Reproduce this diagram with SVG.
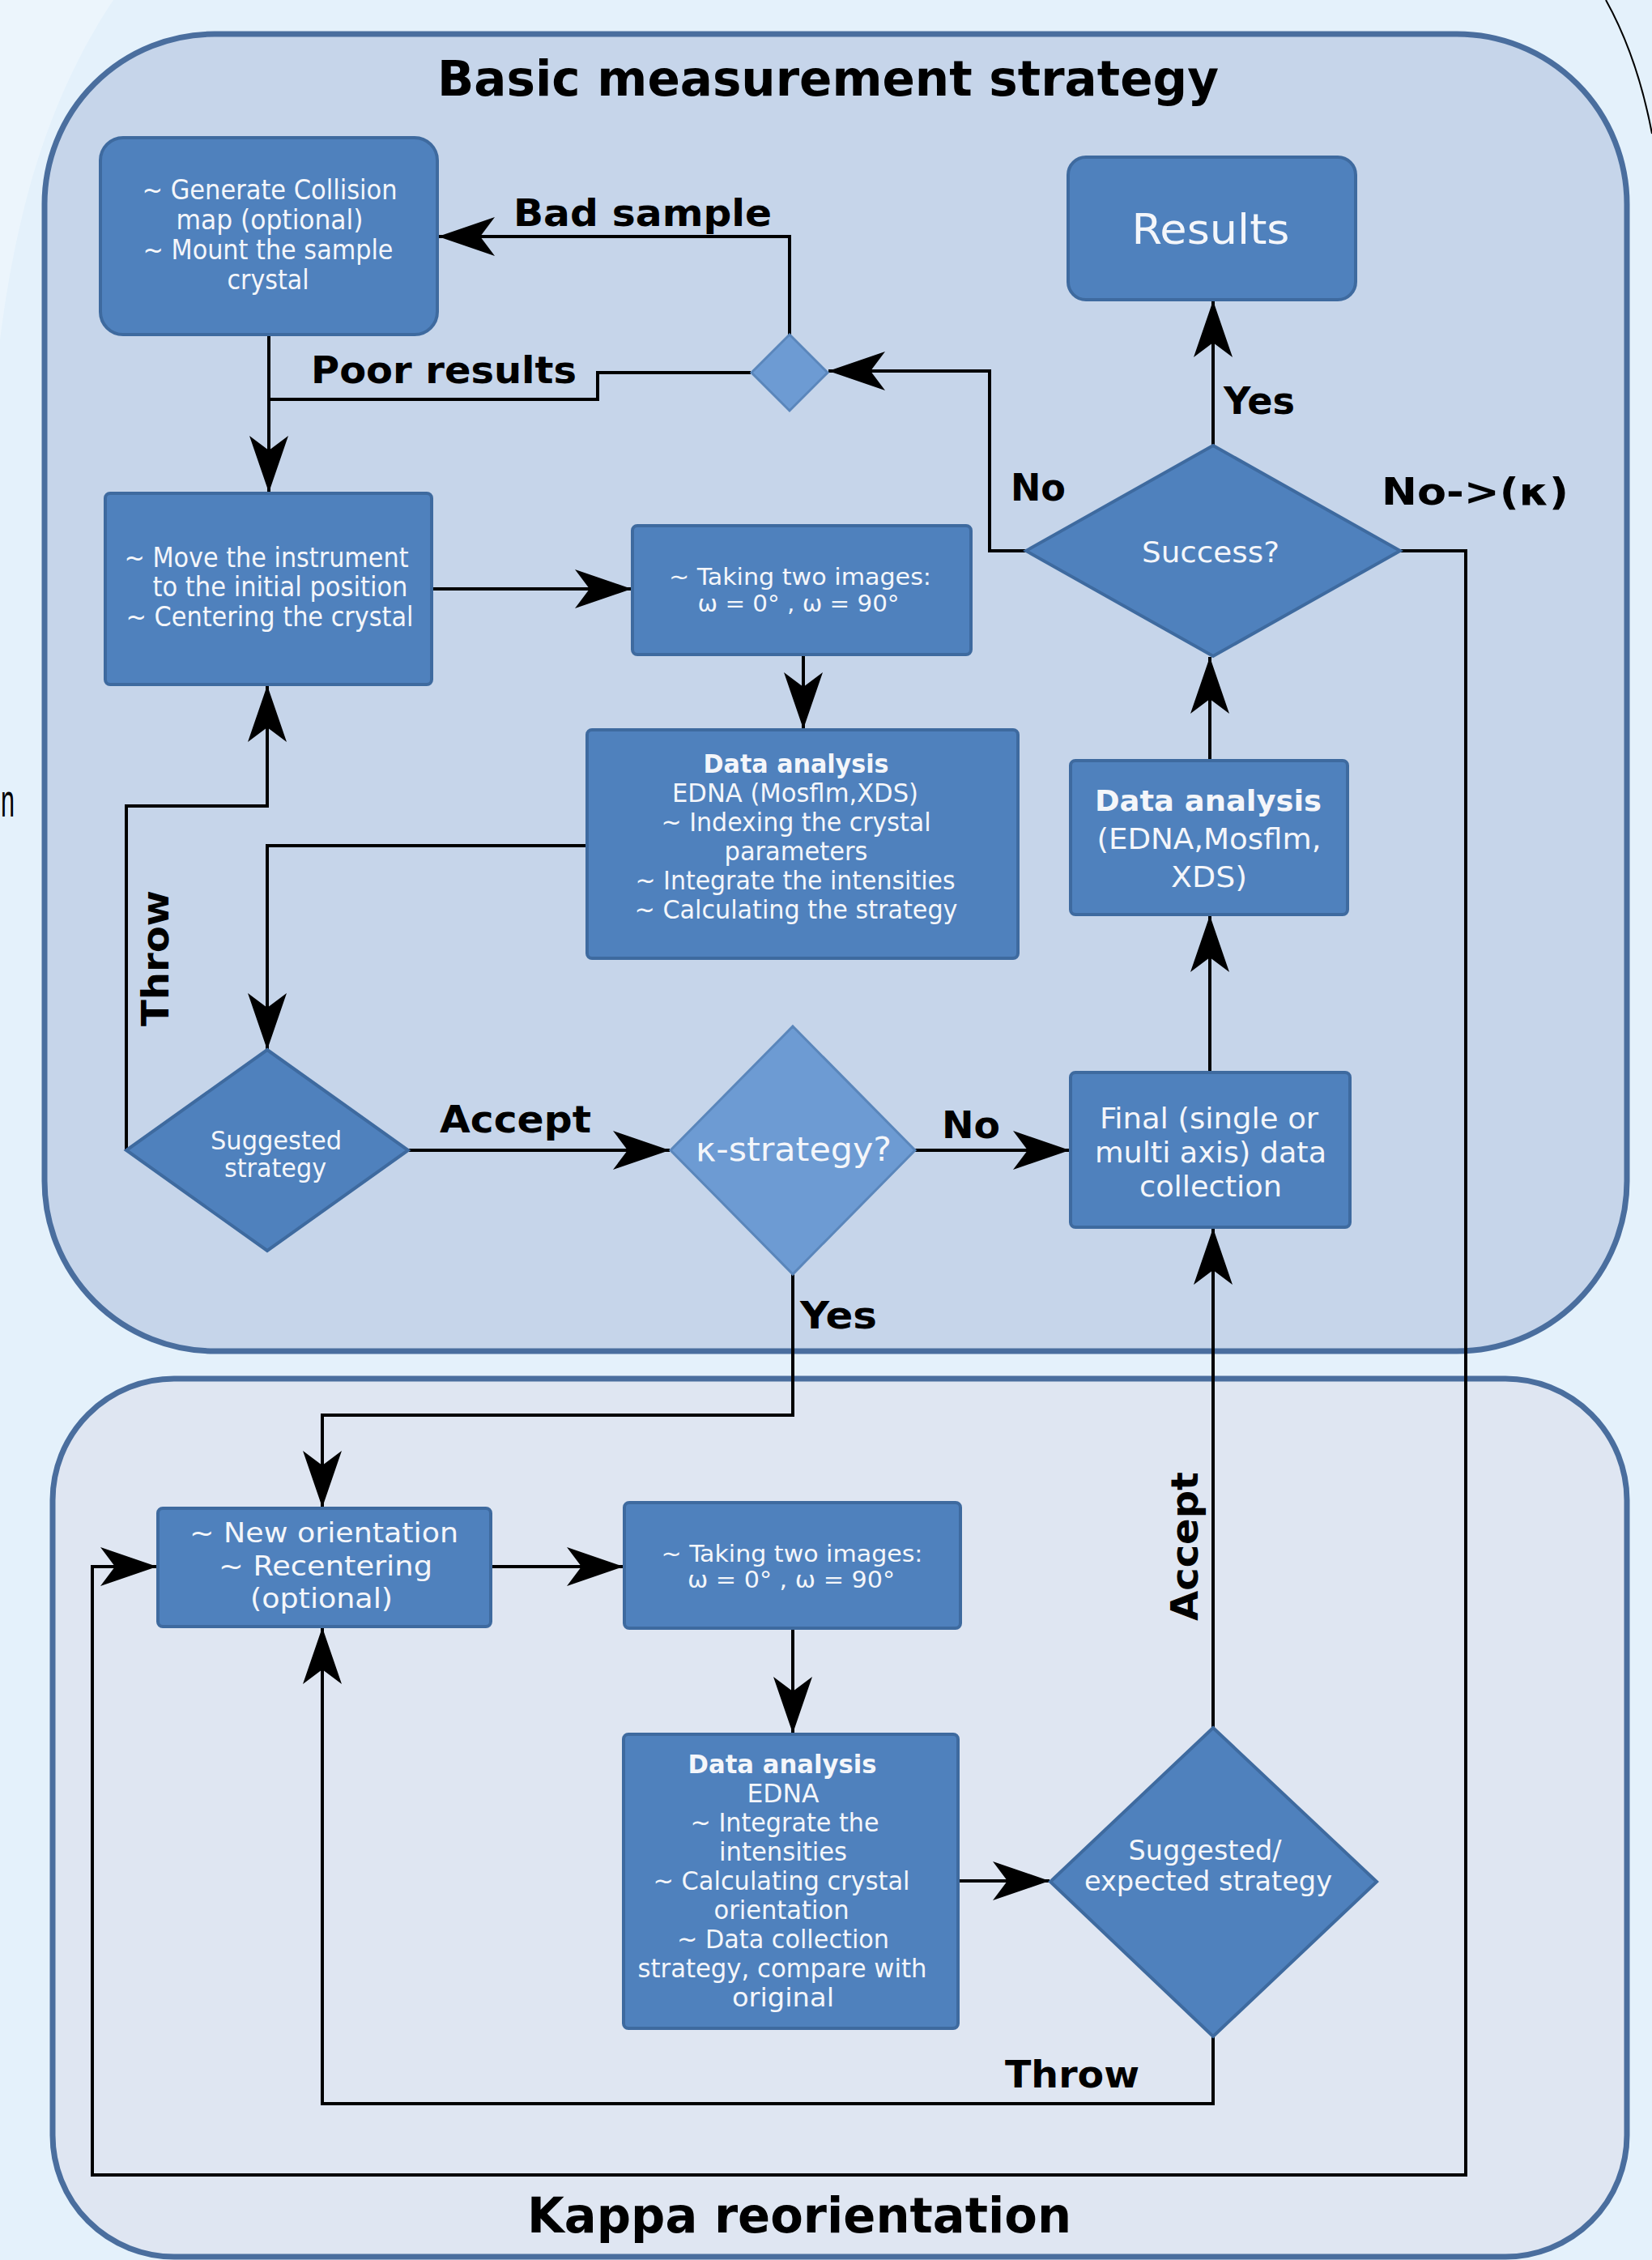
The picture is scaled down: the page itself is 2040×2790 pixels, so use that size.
<svg xmlns="http://www.w3.org/2000/svg" width="2040" height="2790" viewBox="0 0 2040 2790">
<style>
.panel{stroke:#4a6e9e;stroke-width:7}
.node{fill:#4f81bd;stroke:#3e6a9f;stroke-width:4}
.light{fill:#6d9bd3;stroke:#5a86bb;stroke-width:3}
.nt{font-family:"DejaVu Sans Condensed","DejaVu Sans",sans-serif;font-stretch:condensed;fill:#f4f6fa;text-anchor:middle}
.nb{font-weight:bold}
.lbl{font-family:"DejaVu Sans","Liberation Sans",sans-serif;font-weight:bold;fill:#000;font-size:46px}
.ttl{font-family:"DejaVu Sans","Liberation Sans",sans-serif;font-weight:bold;fill:#000;font-size:60px}
.con{fill:none;stroke:#000;stroke-width:4}
.arr{marker-end:url(#ah)}
</style>
<defs>
<marker id="ah" markerUnits="userSpaceOnUse" viewBox="-72 -26 74 52" refX="0" refY="0" markerWidth="74" markerHeight="52" orient="auto">
<path d="M0,0 L-70,-24 L-52,0 L-70,24 Z" fill="#000"/>
</marker>
</defs>
<rect x="0" y="0" width="2040" height="2790" fill="#e4f1fb"/>
<path d="M0,0 L140,0 C60,120 20,260 0,420 Z" fill="#eef6fd" opacity="0.8"/>
<path d="M1983,0 Q2022,70 2040,165" fill="none" stroke="#000" stroke-width="2"/>
<text x="1" y="1008" font-family="Liberation Sans, sans-serif" font-size="58" fill="#000" textLength="17" lengthAdjust="spacingAndGlyphs">n</text>

<g id="panel-basic">
<rect class="panel" x="55" y="42" width="1954" height="1626" rx="210" ry="210" fill="#c6d5ea"/>
<text class="ttl" x="540" y="118" textLength="965" lengthAdjust="spacingAndGlyphs">Basic measurement strategy</text>
</g>
<g id="panel-kappa">
<rect class="panel" x="65" y="1702" width="1944" height="1084" rx="150" ry="150" fill="#dfe6f2"/>
<text class="ttl" x="651" y="2756" font-size="58" textLength="672" lengthAdjust="spacingAndGlyphs">Kappa reorientation</text>
</g>

<g id="connectors">
<path class="con arr" d="M332,413 V608"/>
<path class="con" d="M927,460 H738 V493 H332"/>
<path class="con arr" d="M975,414 V292 H541"/>
<path class="con arr" d="M533,727 H780"/>
<path class="con arr" d="M992,808 V900"/>
<path class="con arr" d="M725,1044 H330 V1296"/>
<path class="con arr" d="M156,1420 V995 H330 V846"/>
<path class="con arr" d="M504,1420 H827"/>
<path class="con arr" d="M1130,1420 H1321"/>
<path class="con arr" d="M1494,1324 V1130"/>
<path class="con arr" d="M1494,939 V811"/>
<path class="con arr" d="M1498,551 V371"/>
<path class="con arr" d="M1267,680 H1222 V458 H1023"/>
<path class="con arr" d="M1729,680 H1810 V2685 H114 V1934 H194"/>
<path class="con arr" d="M979,1573 V1747 H398 V1861"/>
<path class="con arr" d="M606,1934 H770"/>
<path class="con arr" d="M979,2010 V2140"/>
<path class="con arr" d="M1183,2322 H1296"/>
<path class="con arr" d="M1498,2133 V1516"/>
<path class="con arr" d="M1498,2514 V2597 H398 V2009"/>
<text class="lbl" x="634" y="279" textLength="319" lengthAdjust="spacingAndGlyphs">Bad sample</text>
<text class="lbl" x="384" y="473" textLength="328" lengthAdjust="spacingAndGlyphs">Poor results</text>
<text class="lbl" x="1511" y="511" textLength="88" lengthAdjust="spacingAndGlyphs">Yes</text>
<text class="lbl" x="1248" y="618" textLength="68" lengthAdjust="spacingAndGlyphs">No</text>
<text class="lbl" x="1706" y="623" textLength="231" lengthAdjust="spacingAndGlyphs">No-&gt;(κ)</text>
<text class="lbl" x="208" y="1183" text-anchor="middle" transform="rotate(-90 208 1183)" textLength="168" lengthAdjust="spacingAndGlyphs">Throw</text>
<text class="lbl" x="543" y="1398" textLength="187" lengthAdjust="spacingAndGlyphs">Accept</text>
<text class="lbl" x="1163" y="1405" textLength="72" lengthAdjust="spacingAndGlyphs">No</text>
<text class="lbl" x="988" y="1640" textLength="95" lengthAdjust="spacingAndGlyphs">Yes</text>
<text class="lbl" x="1479" y="1909" text-anchor="middle" transform="rotate(-90 1479 1909)" textLength="184" lengthAdjust="spacingAndGlyphs">Accept</text>
<text class="lbl" x="1241" y="2577" textLength="166" lengthAdjust="spacingAndGlyphs">Throw</text>
</g>

<g id="node-mount">
<rect class="node" x="124" y="170" width="416" height="243" rx="28"/>
<text class="nt" font-size="33" x="333" y="246" textLength="315" lengthAdjust="spacingAndGlyphs">~ Generate Collision</text>
<text class="nt" font-size="33" x="333" y="283" textLength="231" lengthAdjust="spacingAndGlyphs">map (optional)</text>
<text class="nt" font-size="33" x="331" y="320" textLength="309" lengthAdjust="spacingAndGlyphs">~ Mount the sample</text>
<text class="nt" font-size="33" x="331" y="357" textLength="101" lengthAdjust="spacingAndGlyphs">crystal</text>
</g>
<g id="node-choice">
<path class="light" d="M975,413 L1022,460 L975,507 L928,460 Z"/>
</g>
<g id="node-results">
<rect class="node" x="1319" y="194" width="355" height="176" rx="22"/>
<text class="nt" font-size="52" x="1495" y="301" style="font-stretch:normal" textLength="195" lengthAdjust="spacingAndGlyphs">Results</text>
</g>
<g id="node-move">
<rect class="node" x="130" y="609" width="403" height="236" rx="6"/>
<text class="nt" font-size="34" x="329" y="700" textLength="351" lengthAdjust="spacingAndGlyphs">~ Move the instrument</text>
<text class="nt" font-size="34" x="346" y="736" textLength="315" lengthAdjust="spacingAndGlyphs">to the initial position</text>
<text class="nt" font-size="34" x="333" y="773" textLength="355" lengthAdjust="spacingAndGlyphs">~ Centering the crystal</text>
</g>
<g id="node-take1">
<rect class="node" x="781" y="649" width="418" height="159" rx="6"/>
<text class="nt" font-size="29" x="988" y="722" textLength="324" lengthAdjust="spacingAndGlyphs">~ Taking two images:</text>
<text class="nt" font-size="29" x="986" y="755" textLength="249" lengthAdjust="spacingAndGlyphs">ω = 0° , ω = 90°</text>
</g>
<g id="node-success">
<path class="node" d="M1498,550 L1729,680 L1498,810 L1267,680 Z"/>
<text class="nt" font-size="36" x="1495" y="694" textLength="170" lengthAdjust="spacingAndGlyphs">Success?</text>
</g>
<g id="node-da1">
<rect class="node" x="725" y="901" width="532" height="282" rx="6"/>
<text class="nt nb" font-size="32" x="983" y="954" textLength="229" lengthAdjust="spacingAndGlyphs">Data analysis</text>
<text class="nt" font-size="32" x="982" y="990" textLength="304" lengthAdjust="spacingAndGlyphs">EDNA (Mosflm,XDS)</text>
<text class="nt" font-size="32" x="983" y="1026" textLength="333" lengthAdjust="spacingAndGlyphs">~ Indexing the crystal</text>
<text class="nt" font-size="32" x="983" y="1062" textLength="177" lengthAdjust="spacingAndGlyphs">parameters</text>
<text class="nt" font-size="32" x="982" y="1098" textLength="395" lengthAdjust="spacingAndGlyphs">~ Integrate the intensities</text>
<text class="nt" font-size="32" x="983" y="1134" textLength="399" lengthAdjust="spacingAndGlyphs">~ Calculating the strategy</text>
</g>
<g id="node-da2">
<rect class="node" x="1322" y="939" width="342" height="190" rx="6"/>
<text class="nt nb" font-size="35" x="1492" y="1001" style="font-stretch:normal" textLength="280" lengthAdjust="spacingAndGlyphs">Data analysis</text>
<text class="nt" font-size="35" x="1493" y="1048" style="font-stretch:normal" textLength="277" lengthAdjust="spacingAndGlyphs">(EDNA,Mosflm,</text>
<text class="nt" font-size="35" x="1493" y="1095" style="font-stretch:normal" textLength="94" lengthAdjust="spacingAndGlyphs">XDS)</text>
</g>
<g id="node-suggested">
<path class="node" d="M330,1296 L504,1420 L330,1544 L156,1420 Z"/>
<text class="nt" font-size="32" x="341" y="1419" textLength="162" lengthAdjust="spacingAndGlyphs">Suggested</text>
<text class="nt" font-size="32" x="340" y="1453" textLength="126" lengthAdjust="spacingAndGlyphs">strategy</text>
</g>
<g id="node-kappa">
<path class="light" d="M979,1267 L1130,1420 L979,1573 L828,1420 Z"/>
<text class="nt" font-size="40" x="980" y="1433" style="font-stretch:normal" textLength="242" lengthAdjust="spacingAndGlyphs">κ-strategy?</text>
</g>
<g id="node-final">
<rect class="node" x="1322" y="1324" width="345" height="191" rx="6"/>
<text class="nt" font-size="35" x="1493" y="1393" style="font-stretch:normal" textLength="270" lengthAdjust="spacingAndGlyphs">Final (single or</text>
<text class="nt" font-size="35" x="1495" y="1435" style="font-stretch:normal" textLength="286" lengthAdjust="spacingAndGlyphs">multi axis) data</text>
<text class="nt" font-size="35" x="1495" y="1477" style="font-stretch:normal" textLength="176" lengthAdjust="spacingAndGlyphs">collection</text>
</g>
<g id="node-neworient">
<rect class="node" x="195" y="1862" width="411" height="146" rx="6"/>
<text class="nt" font-size="34" x="400" y="1904" textLength="332" lengthAdjust="spacingAndGlyphs">~ New orientation</text>
<text class="nt" font-size="34" x="402" y="1945" textLength="264" lengthAdjust="spacingAndGlyphs">~ Recentering</text>
<text class="nt" font-size="34" x="397" y="1985" textLength="176" lengthAdjust="spacingAndGlyphs">(optional)</text>
</g>
<g id="node-take2">
<rect class="node" x="771" y="1855" width="415" height="155" rx="6"/>
<text class="nt" font-size="29" x="978" y="1928" textLength="323" lengthAdjust="spacingAndGlyphs">~ Taking two images:</text>
<text class="nt" font-size="29" x="977" y="1960" textLength="256" lengthAdjust="spacingAndGlyphs">ω = 0° , ω = 90°</text>
</g>
<g id="node-da3">
<rect class="node" x="770" y="2141" width="413" height="363" rx="6"/>
<text class="nt nb" font-size="32" x="966" y="2189" textLength="233" lengthAdjust="spacingAndGlyphs">Data analysis</text>
<text class="nt" font-size="32" x="967" y="2225" textLength="89" lengthAdjust="spacingAndGlyphs">EDNA</text>
<text class="nt" font-size="32" x="969" y="2261" textLength="233" lengthAdjust="spacingAndGlyphs">~ Integrate the</text>
<text class="nt" font-size="32" x="967" y="2297" textLength="158" lengthAdjust="spacingAndGlyphs">intensities</text>
<text class="nt" font-size="32" x="965" y="2333" textLength="317" lengthAdjust="spacingAndGlyphs">~ Calculating crystal</text>
<text class="nt" font-size="32" x="965" y="2369" textLength="167" lengthAdjust="spacingAndGlyphs">orientation</text>
<text class="nt" font-size="32" x="967" y="2405" textLength="262" lengthAdjust="spacingAndGlyphs">~ Data collection</text>
<text class="nt" font-size="32" x="966" y="2441" textLength="357" lengthAdjust="spacingAndGlyphs">strategy, compare with</text>
<text class="nt" font-size="32" x="967" y="2477" textLength="126" lengthAdjust="spacingAndGlyphs">original</text>
</g>
<g id="node-sugexp">
<path class="node" d="M1498,2133 L1700,2323 L1498,2514 L1297,2323 Z"/>
<text class="nt" font-size="34" x="1488" y="2296" style="font-stretch:normal" textLength="189" lengthAdjust="spacingAndGlyphs">Suggested/</text>
<text class="nt" font-size="34" x="1492" y="2334" style="font-stretch:normal" textLength="306" lengthAdjust="spacingAndGlyphs">expected strategy</text>
</g>
</svg>
